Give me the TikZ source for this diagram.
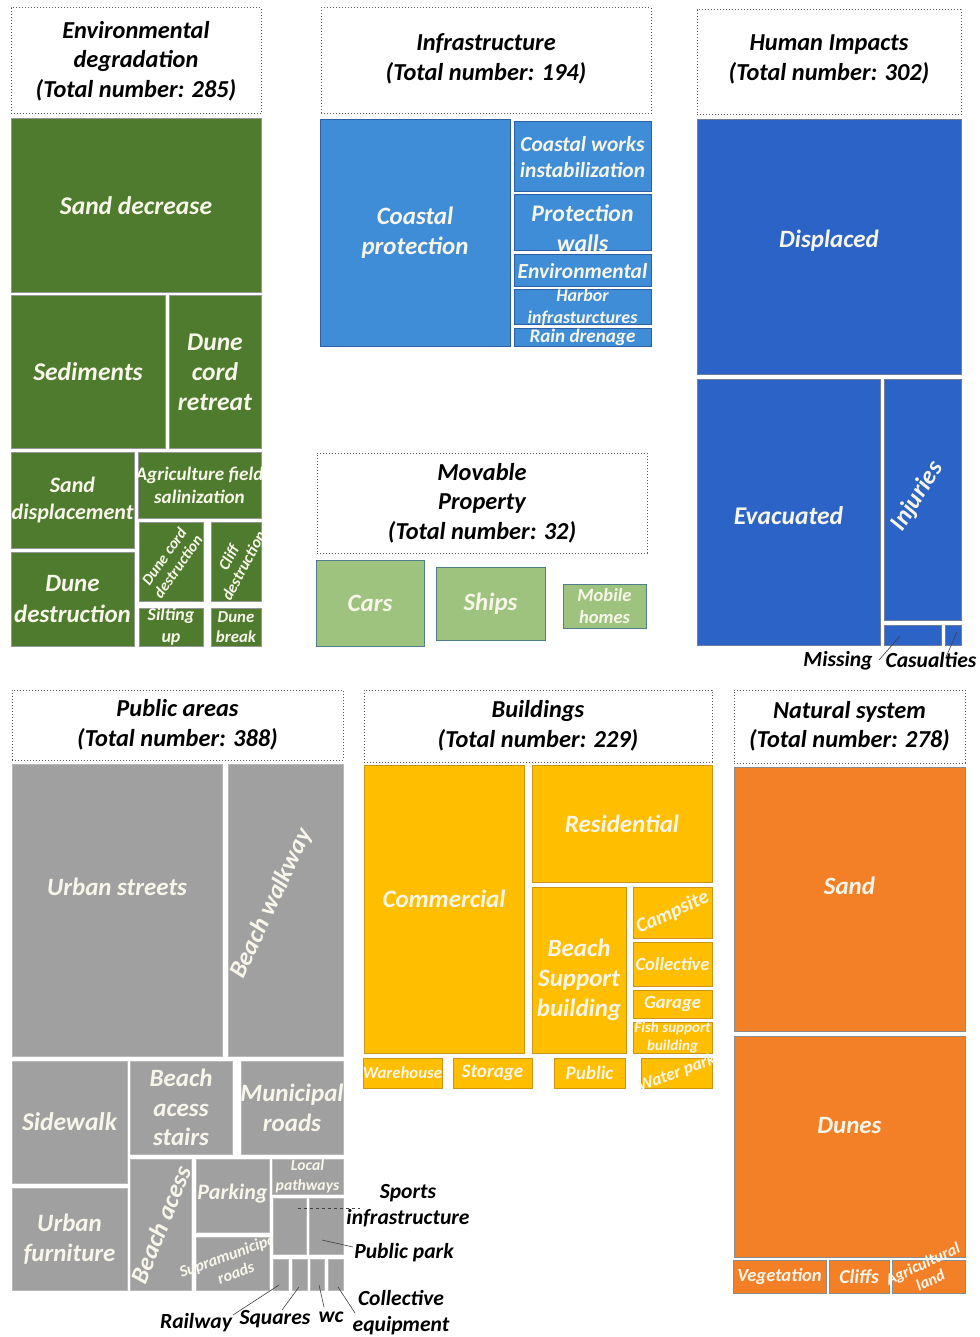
\documentclass[tikz,border=0pt]{standalone}
\usepackage{fontspec}
\setmainfont{Carlito}
\usetikzlibrary{calc}
\newcommand\myfs[2]{\fontsize{\fpeval{1.16*#1}pt}{#2pt}\selectfont\bfseries\itshape}
\newcommand\tm[8]{%
 \node[#6, minimum width={(#4)-(#2)}, minimum height={(#5)-(#3)}] (#1) at ({((#2)+(#4))/2},{-((#3)+(#5))/2}) {};
 \node[#7] (#1-t) at (#1.center) {#8};}
\definecolor{cream}{RGB}{248,246,234}
\definecolor{cgreen}{RGB}{78,123,46}
\definecolor{cgreenB}{RGB}{150,150,150}
\definecolor{iblue}{RGB}{63,141,214}
\definecolor{iblueB}{RGB}{45,95,165}
\definecolor{hblue}{RGB}{44,99,199}
\definecolor{hblueB}{RGB}{115,125,155}
\definecolor{lgreen}{RGB}{157,195,126}
\definecolor{lgreenB}{RGB}{80,125,140}
\definecolor{cgray}{RGB}{160,160,160}
\definecolor{cgrayB}{RGB}{185,185,185}
\definecolor{cyell}{RGB}{255,190,0}
\definecolor{cyellB}{RGB}{200,150,20}
\definecolor{corng}{RGB}{243,127,39}
\definecolor{corngB}{RGB}{140,140,140}
\tikzset{
 bx/.style={rectangle, inner sep=0pt, outer sep=0pt, line width=1pt},
 grn/.style={bx, fill=cgreen, draw=cgreenB},
 ibl/.style={bx, fill=iblue, draw=iblueB},
 hbl/.style={bx, fill=hblue, draw=hblueB},
 lgr/.style={bx, fill=lgreen, draw=lgreenB},
 gry/.style={bx, fill=cgray, draw=cgrayB},
 ylw/.style={bx, fill=cyell, draw=cyellB},
 org/.style={bx, fill=corng, draw=corngB},
 ttlbox/.style={bx, draw=black!65, dotted, line width=1pt},
 ct/.style={text=cream, align=center, inner sep=0pt},
 tt/.style={text=black, align=center, inner sep=0pt, font=\myfs{21}{29.5}},
 lbl/.style={text=black, align=center, inner sep=0pt, font=\myfs{18.6}{26}},
 leader/.style={draw=black!75, line width=0.6pt},
}
\begin{document}
\begin{tikzpicture}[x=1pt,y=1pt]
\useasboundingbox (0,0) rectangle (979,-1337);
% ---------- Environmental degradation
\tm{envT}{11}{8}{261}{114}{ttlbox}{tt}{Environmental\\degradation\\(Total number: 285)}
\tm{sanddec}{11}{119}{261}{293}{grn}{ct,font=\myfs{22}{30}}{Sand decrease}
\tm{sedim}{11}{296}{165}{448}{grn}{ct,font=\myfs{22}{30}}{Sediments}
\tm{dcr}{169}{296}{261}{448}{grn}{ct,font=\myfs{22}{30}}{Dune\\cord\\retreat}
\tm{sdisp}{11}{452}{134}{548}{grn}{ct,font=\myfs{19}{27}}{Sand\\displacement}
\tm{agri}{138}{452}{261}{518}{grn}{ct,font=\myfs{16.5}{23}}{Agriculture field\\salinization}
\tm{dcd}{139}{522}{203}{601}{grn}{ct,font=\myfs{13.5}{17},rotate=55}{Dune cord\\destruction}
\tm{cliff}{211}{522}{261}{601}{grn}{ct,font=\myfs{14}{17},rotate=62}{Cliff\\destruction}
\tm{ddest}{11}{552}{134}{646}{grn}{ct,font=\myfs{21.5}{30}}{Dune\\destruction}
\tm{silt}{139}{608}{203}{646}{grn}{ct,font=\myfs{15.5}{22}}{Silting\\up}
\tm{dbreak}{211}{608}{261}{646}{grn}{ct,font=\myfs{14.5}{20}}{Dune\\break}
% ---------- Infrastructure
\tm{infT}{321}{8}{651}{114}{ttlbox}{tt,yshift=2}{Infrastructure\\(Total number: 194)}
\tm{cprot}{320}{120}{510}{346}{ibl}{ct,font=\myfs{21.5}{30}}{Coastal\\protection}
\tm{cworks}{514}{122}{651}{192}{ibl}{ct,font=\myfs{18.5}{26}}{Coastal works\\instabilization}
\tm{pwalls}{514}{195}{651}{251}{ibl}{ct,font=\myfs{20.5}{30},yshift=-5}{Protection\\walls}
\tm{envw}{514}{255}{651}{287}{ibl}{ct,font=\myfs{18.5}{24}}{Environmental}
\tm{harbor}{514}{290}{651}{324}{ibl}{ct,font=\myfs{15.5}{22}}{Harbor\\infrasturctures}
\tm{rain}{514}{328}{651}{346}{ibl}{ct,font=\myfs{16.5}{22}}{Rain drenage}
% ---------- Movable property
\tm{movT}{317}{453}{647}{553}{ttlbox}{tt}{Movable\\Property\\(Total number: 32)}
\tm{cars}{316}{560}{424}{646}{lgr}{ct,font=\myfs{21.5}{30}}{Cars}
\tm{ships}{436}{567}{545}{640}{lgr}{ct,font=\myfs{21.5}{30}}{Ships}
\tm{mobile}{563}{584}{646}{628}{lgr}{ct,font=\myfs{16}{22}}{Mobile\\homes}
% ---------- Human impacts
\tm{humT}{697}{10}{961}{115}{ttlbox}{tt,yshift=3}{Human Impacts\\(Total number: 302)}
\tm{displ}{697}{120}{961}{374}{hbl}{ct,font=\myfs{21.5}{30},yshift=6}{Displaced}
\tm{evac}{697}{379}{880}{645}{hbl}{ct,font=\myfs{22}{30},yshift=-4}{Evacuated}
\tm{inj}{884}{379}{961}{620}{hbl}{ct,font=\myfs{21.5}{30},rotate=58,yshift=6}{Injuries}
\tm{miss}{884}{625}{941}{645}{hbl}{ct}{}
\tm{casu}{945}{625}{961}{645}{hbl}{ct}{}
\node[lbl] (missL) at (838,-661) {Missing};
\node[lbl] (casuL) at (931,-660) {Casualties};
\coordinate (missA) at (900,-636);
\coordinate (missB) at (879,-660);
\coordinate (casuA) at (957,-632);
\coordinate (casuB) at (946,-657);
\draw[leader] (missA) -- (missB);
\draw[leader] (casuA) -- (casuB);
% ---------- Public areas
\tm{pubT}{12}{690}{343}{760}{ttlbox}{tt}{Public areas\\(Total number: 388)}
\tm{ustreet}{12}{764}{222}{1056}{gry}{ct,font=\myfs{21.5}{30},yshift=23}{Urban streets}
\tm{bwalk}{228}{764}{343}{1056}{gry}{ct,font=\myfs{21.5}{30},rotate=65,yshift=15}{Beach walkway}
\tm{sidew}{12}{1061}{127}{1183}{gry}{ct,font=\myfs{22}{30}}{Sidewalk}
\tm{bstairs}{130}{1061}{232}{1154}{gry}{ct,font=\myfs{21.5}{29.5}}{Beach\\acess\\stairs}
\tm{munic}{241}{1061}{343}{1154}{gry}{ct,font=\myfs{21.5}{30}}{Municipal\\roads}
\tm{ufurn}{12}{1188}{127}{1290}{gry}{ct,font=\myfs{21.5}{30}}{Urban\\furniture}
\tm{bacc}{130}{1159}{191}{1290}{gry}{ct,font=\myfs{21.5}{30},rotate=68}{Beach acess}
\tm{park}{196}{1159}{269}{1232}{gry}{ct,font=\myfs{19}{26},yshift=2}{Parking}
\tm{supra}{196}{1237}{269}{1290}{gry}{ct,font=\myfs{14}{19},rotate=20}{Supramunicipal\\roads}
\tm{local}{272}{1159}{343}{1194}{gry}{ct,font=\myfs{13.5}{20}}{Local\\pathways}
\tm{sport}{273}{1198}{306}{1254}{gry}{ct}{}
\tm{ppark}{309}{1198}{343}{1254}{gry}{ct}{}
\tm{rail}{273}{1259}{288}{1290}{gry}{ct}{}
\tm{squa}{292}{1259}{307}{1290}{gry}{ct}{}
\tm{wcb}{310}{1259}{324}{1290}{gry}{ct}{}
\tm{colle}{328}{1259}{343}{1290}{gry}{ct}{}
\node[lbl] (sportL) at (408,-1206) {Sports\\infrastructure};
\node[lbl] (pparkL) at (404,-1253) {Public park};
\node[lbl] (railL) at (196,-1323) {Railway};
\node[lbl] (squaL) at (275,-1319) {Squares};
\node[lbl] (wcL) at (331,-1317) {wc};
\node[lbl] (colleL) at (401,-1313) {Collective\\equipment};
\coordinate (sportA) at (298,-1208);
\coordinate (sportB) at (360,-1208);
\coordinate (pparkA) at (322,-1240);
\coordinate (pparkB) at (353,-1247);
\coordinate (railA) at (279,-1285);
\coordinate (railB) at (233,-1315);
\coordinate (squaA) at (299,-1287);
\coordinate (squaB) at (282,-1310);
\coordinate (wcA) at (319,-1285);
\coordinate (wcB) at (324,-1307);
\coordinate (colleA) at (338,-1287);
\coordinate (colleB) at (355,-1313);
\draw[leader, dashed] (sportA) -- (sportB);
\draw[leader] (pparkA) -- (pparkB);
\draw[leader] (railA) -- (railB);
\draw[leader] (squaA) -- (squaB);
\draw[leader] (wcA) -- (wcB);
\draw[leader] (colleA) -- (colleB);
% ---------- Buildings
\tm{bldT}{364}{690}{712}{762}{ttlbox}{tt}{Buildings\\(Total number: 229)}
\tm{comm}{364}{765}{524}{1053}{ylw}{ct,font=\myfs{21.5}{30},yshift=10}{Commercial}
\tm{resid}{532}{765}{712}{882}{ylw}{ct,font=\myfs{21.5}{30}}{Residential}
\tm{bsupp}{532}{887}{626}{1053}{ylw}{ct,font=\myfs{21.5}{30},yshift=-10}{Beach\\Support\\building}
\tm{camp}{633}{887}{712}{938}{ylw}{ct,font=\myfs{17.5}{22},rotate=25}{Campsite}
\tm{collb}{633}{942}{712}{986}{ylw}{ct,font=\myfs{16}{22}}{Collective}
\tm{garage}{633}{990}{712}{1018}{ylw}{ct,font=\myfs{16}{22}}{Garage}
\tm{fish}{633}{1022}{712}{1053}{ylw}{ct,font=\myfs{13}{18}}{Fish support\\building}
\tm{wareh}{363}{1058}{442}{1088}{ylw}{ct,font=\myfs{14.5}{20}}{Warehouse}
\tm{stor}{453}{1058}{532}{1088}{ylw}{ct,font=\myfs{16.5}{22}}{Storage}
\tm{publ}{554}{1058}{625}{1088}{ylw}{ct,font=\myfs{16.5}{22}}{Public}
\tm{water}{641}{1058}{712}{1088}{ylw}{ct,font=\myfs{15}{20},rotate=20}{Water park}
% ---------- Natural system
\tm{natT}{734}{690}{965}{763}{ttlbox}{tt}{Natural system\\(Total number: 278)}
\tm{sand}{734}{767}{965}{1031}{org}{ct,font=\myfs{21.5}{30},yshift=13}{Sand}
\tm{dunes}{734}{1036}{965}{1257}{org}{ct,font=\myfs{21.5}{30},yshift=21}{Dunes}
\tm{veg}{733}{1260}{826}{1293}{org}{ct,font=\myfs{16}{22}}{Vegetation}
\tm{cliffs}{829}{1260}{889}{1293}{org}{ct,font=\myfs{17}{22}}{Cliffs}
\tm{agrl}{892}{1260}{965}{1293}{org}{ct,font=\myfs{14}{18},rotate=25,yshift=5}{Agricultural\\land}
\end{tikzpicture}
\end{document}
